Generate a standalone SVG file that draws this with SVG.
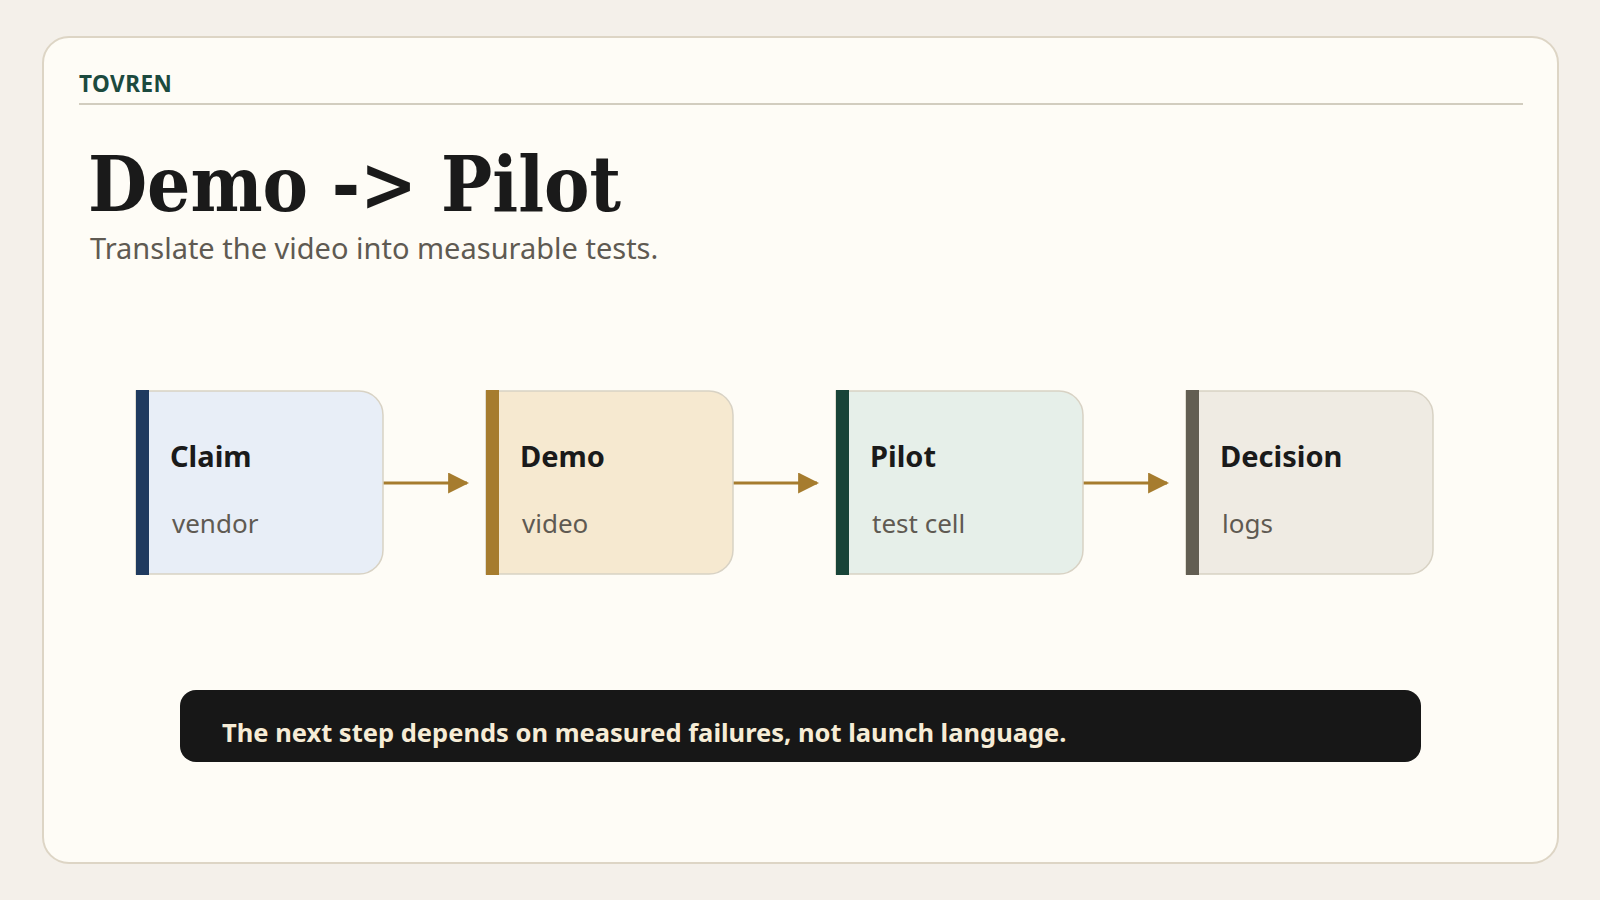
<svg xmlns="http://www.w3.org/2000/svg" width="1600" height="900" viewBox="0 0 1600 900">
<defs>
<style>
.nt{font-family:"Noto Sans","Open Sans",sans-serif;font-weight:700;font-size:29px;fill:#1a1a1a}
.ns{font-family:"Noto Sans","Open Sans",sans-serif;font-size:26px;fill:#5f5a52}
.box{stroke:#d8d2c4;stroke-width:1.5}
.conn{stroke:#a67c2e;stroke-width:3;fill:none}
</style>
<marker id="ah" viewBox="0 0 10 10" refX="9" refY="5" markerWidth="7" markerHeight="7" markerUnits="strokeWidth" orient="auto"><path d="M0,0L10,5L0,10z" fill="#a67c2e"/></marker>
</defs>
<rect width="1600" height="900" fill="#f4f0ea"/>
<rect x="43" y="37" width="1515" height="826" rx="26" fill="#fefcf6" stroke="#ddd5c5" stroke-width="2"/>
<text x="79" y="92" font-family="Noto Sans,sans-serif" font-weight="700" font-size="22.5" fill="#1c4a3e" letter-spacing="0.5">TOVREN</text>
<line x1="79" y1="104" x2="1523" y2="104" stroke="#d2cdbf" stroke-width="2"/>
<text x="88" y="211" font-family="DejaVu Serif,serif" font-weight="700" font-size="76" fill="#1a1a1a" textLength="533" lengthAdjust="spacingAndGlyphs">Demo -&gt; Pilot</text>
<text x="90" y="259" font-family="Noto Sans,sans-serif" font-size="29" fill="#5f5a52">Translate the video into measurable tests.</text>
<g id="connectors">
<line class="conn" x1="383" y1="483" x2="467" y2="483" marker-end="url(#ah)"/>
<line class="conn" x1="733" y1="483" x2="817" y2="483" marker-end="url(#ah)"/>
<line class="conn" x1="1083" y1="483" x2="1167" y2="483" marker-end="url(#ah)"/>
</g>
<g id="n1"><path class="box" d="M136,391H359a24,24 0 0 1 24,24V550a24,24 0 0 1-24,24H136z" fill="#e8eef7"/><rect x="136" y="390" width="13" height="185" fill="#1f3a5f"/><text class="nt" x="170" y="467">Claim</text><text class="ns" x="172" y="533">vendor</text></g>
<g id="n2"><path class="box" d="M486,391H709a24,24 0 0 1 24,24V550a24,24 0 0 1-24,24H486z" fill="#f6e9d0"/><rect x="486" y="390" width="13" height="185" fill="#a67c2e"/><text class="nt" x="520" y="467">Demo</text><text class="ns" x="522" y="533">video</text></g>
<g id="n3"><path class="box" d="M836,391H1059a24,24 0 0 1 24,24V550a24,24 0 0 1-24,24H836z" fill="#e6efe9"/><rect x="836" y="390" width="13" height="185" fill="#184438"/><text class="nt" x="870" y="467">Pilot</text><text class="ns" x="872" y="533">test cell</text></g>
<g id="n4"><path class="box" d="M1186,391H1409a24,24 0 0 1 24,24V550a24,24 0 0 1-24,24H1186z" fill="#efebe3"/><rect x="1186" y="390" width="13" height="185" fill="#625e52"/><text class="nt" x="1220" y="467">Decision</text><text class="ns" x="1222" y="533">logs</text></g>
<g id="note"><rect x="180" y="690" width="1241" height="72" rx="16" fill="#171717"/><text x="222" y="742" font-family="Noto Sans,sans-serif" font-weight="700" font-size="25.5" fill="#f6ecd6">The next step depends on measured failures, not launch language.</text></g>
</svg>
